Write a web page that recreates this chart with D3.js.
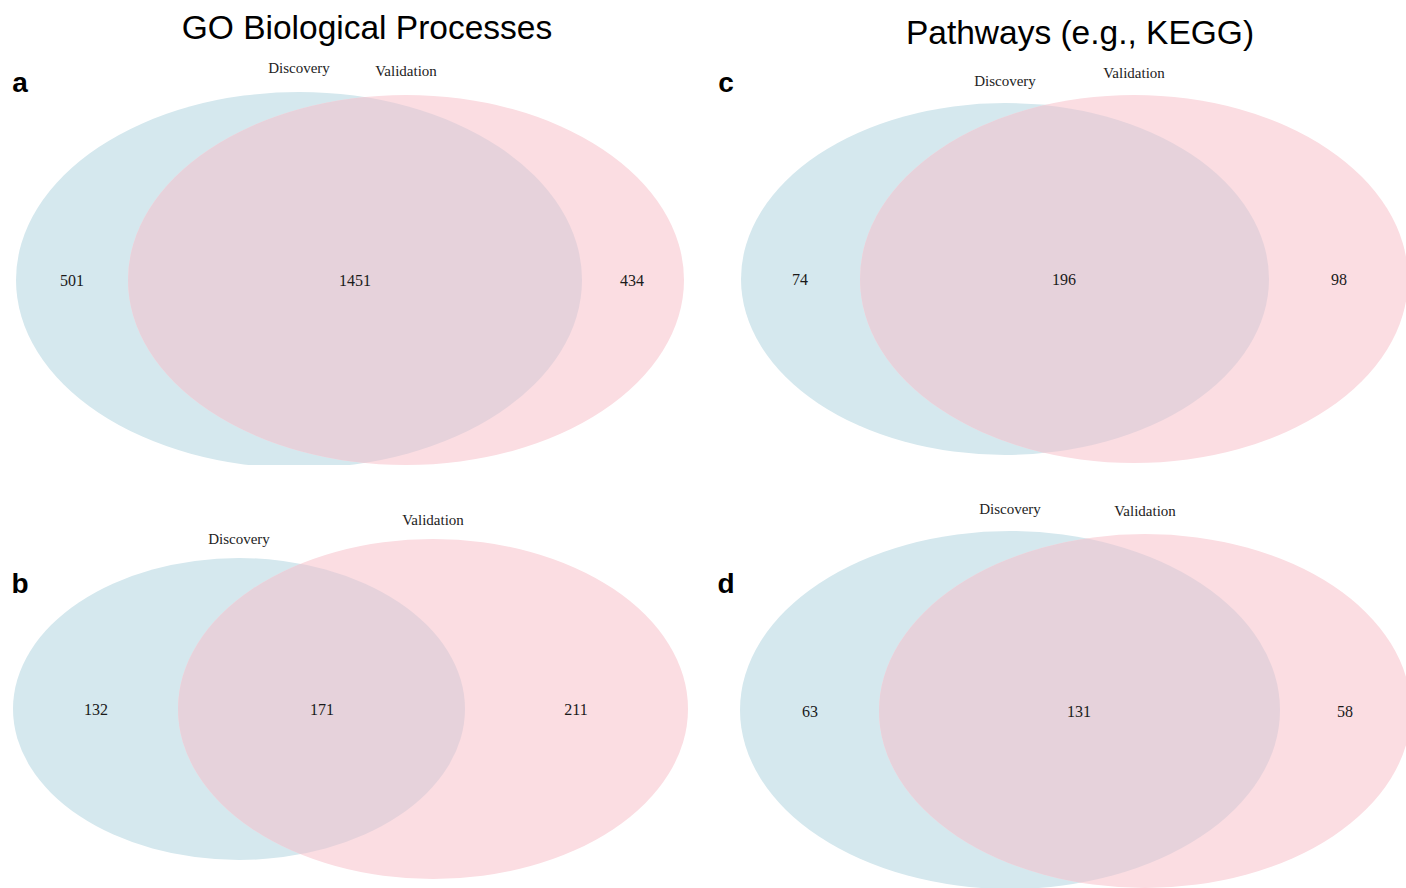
<!DOCTYPE html>
<html>
<head>
<meta charset="utf-8">
<script src="https://cdn.jsdelivr.net/npm/d3@7"></script>
<style>
  html, body { margin: 0; padding: 0; background: #fff; }
  #container { width: 1406px; height: 888px; }
</style>
</head>
<body>
<div id="container"></div>
<script>
/**
 *
 * 数据
 *
 */
const panelIds = ["a", "b", "c", "d"];
const setNames = ["Discovery", "Validation"];
const columnTitles = ["GO Biological Processes", "Pathways (e.g., KEGG)"];
// 每个面板的 [仅 Discovery, 交集, 仅 Validation]
const onlyDiscovery = [501, 132, 74, 63];
const shared = [1451, 171, 196, 131];
const onlyValidation = [434, 211, 98, 58];

/**
 *
 * 布局参数（固定值）
 *
 */
const width = 1406,
  height = 888;

const blueFill = "#d5e8ee",
  pinkFill = "#fbdde2",
  overlapFill = "#e6d2db";

// 每个面板的椭圆几何参数 (像素)
const layout = [
  {
    letter: [20, 82],
    clipBottom: 465,
    blue: { cx: 299, cy: 280, rx: 283, ry: 188 },
    pink: { cx: 406, cy: 280, rx: 278, ry: 185 },
    labelY: [68, 71],
    numX: [72, 355, 632],
    numY: 280
  },
  {
    letter: [20, 583],
    clipBottom: height,
    blue: { cx: 239, cy: 709, rx: 226, ry: 151 },
    pink: { cx: 433, cy: 709, rx: 255, ry: 170 },
    labelY: [539, 520],
    numX: [96, 322, 576],
    numY: 709
  },
  {
    letter: [726, 82],
    clipBottom: height,
    blue: { cx: 1005, cy: 279, rx: 264, ry: 176 },
    pink: { cx: 1134, cy: 279, rx: 274, ry: 184 },
    labelY: [81, 73],
    numX: [800, 1064, 1339],
    numY: 279
  },
  {
    letter: [726, 583],
    clipBottom: height,
    blue: { cx: 1010, cy: 710, rx: 270, ry: 179 },
    pink: { cx: 1145, cy: 711, rx: 266, ry: 177 },
    labelY: [509, 511],
    numX: [810, 1079, 1345],
    numY: 711
  }
];

/**
 *
 * 创建容器
 *
 */
const svg = d3
  .select("#container")
  .append("svg")
  .attr("width", width)
  .attr("height", height)
  .attr("viewBox", [0, 0, width, height]);

const defs = svg.append("defs");

/**
 *
 * 栏标题
 *
 */
svg
  .append("g")
  .attr("font-family", "Liberation Sans, Arial, sans-serif")
  .attr("font-size", 33.5)
  .attr("fill", "#000")
  .attr("text-anchor", "middle")
  .selectAll("text")
  .data(columnTitles)
  .join("text")
  .attr("x", (d, i) => (i === 0 ? 367 : 1080))
  .attr("y", (d, i) => (i === 0 ? 39 : 44))
  .text((d) => d);

/**
 *
 * 绘制每个 Venn 图
 *
 */
function vennPanel(i) {
  const L = layout[i];
  const counts = [onlyDiscovery[i], shared[i], onlyValidation[i]];

  // 比例尺：这里用恒等映射，把几何参数转换到画布
  const x = d3.scaleLinear([0, width], [0, width]);
  const y = d3.scaleLinear([0, height], [0, height]);

  const clipId = `clip-${panelIds[i]}`;
  defs
    .append("clipPath")
    .attr("id", clipId)
    .append("rect")
    .attr("x", 0)
    .attr("y", 0)
    .attr("width", width)
    .attr("height", y(L.clipBottom));

  const interId = `inter-${panelIds[i]}`;
  defs
    .append("clipPath")
    .attr("id", interId)
    .append("ellipse")
    .attr("cx", x(L.blue.cx))
    .attr("cy", y(L.blue.cy))
    .attr("rx", L.blue.rx)
    .attr("ry", L.blue.ry);

  const g = svg.append("g").attr("clip-path", `url(#${clipId})`);

  g.append("ellipse")
    .attr("cx", x(L.blue.cx))
    .attr("cy", y(L.blue.cy))
    .attr("rx", L.blue.rx)
    .attr("ry", L.blue.ry)
    .attr("fill", blueFill);

  g.append("ellipse")
    .attr("cx", x(L.pink.cx))
    .attr("cy", y(L.pink.cy))
    .attr("rx", L.pink.rx)
    .attr("ry", L.pink.ry)
    .attr("fill", pinkFill);

  // 交集部分
  g.append("g")
    .attr("clip-path", `url(#${interId})`)
    .append("ellipse")
    .attr("cx", x(L.pink.cx))
    .attr("cy", y(L.pink.cy))
    .attr("rx", L.pink.rx)
    .attr("ry", L.pink.ry)
    .attr("fill", overlapFill);

  // 集合名称
  svg
    .append("g")
    .attr("font-family", "Liberation Serif, Times New Roman, serif")
    .attr("font-size", 15)
    .attr("fill", "#222")
    .attr("text-anchor", "middle")
    .selectAll("text")
    .data(setNames)
    .join("text")
    .attr("x", (d, k) => x(k === 0 ? L.blue.cx : L.pink.cx))
    .attr("y", (d, k) => y(L.labelY[k]))
    .attr("dy", "0.35em")
    .text((d) => d);

  // 计数
  svg
    .append("g")
    .attr("font-family", "Liberation Serif, Times New Roman, serif")
    .attr("font-size", 16)
    .attr("fill", "#1a1a1a")
    .attr("text-anchor", "middle")
    .selectAll("text")
    .data(counts)
    .join("text")
    .attr("x", (d, k) => x(L.numX[k]))
    .attr("y", y(L.numY))
    .attr("dy", "0.35em")
    .text((d) => d);

  // 面板字母
  svg
    .append("text")
    .attr("x", L.letter[0])
    .attr("y", L.letter[1])
    .attr("dy", "0.35em")
    .attr("text-anchor", "middle")
    .attr("font-family", "Liberation Sans, Arial, sans-serif")
    .attr("font-weight", "bold")
    .attr("font-size", 28)
    .text(panelIds[i]);
}

panelIds.forEach((id, i) => vennPanel(i));
</script>
</body>
</html>
